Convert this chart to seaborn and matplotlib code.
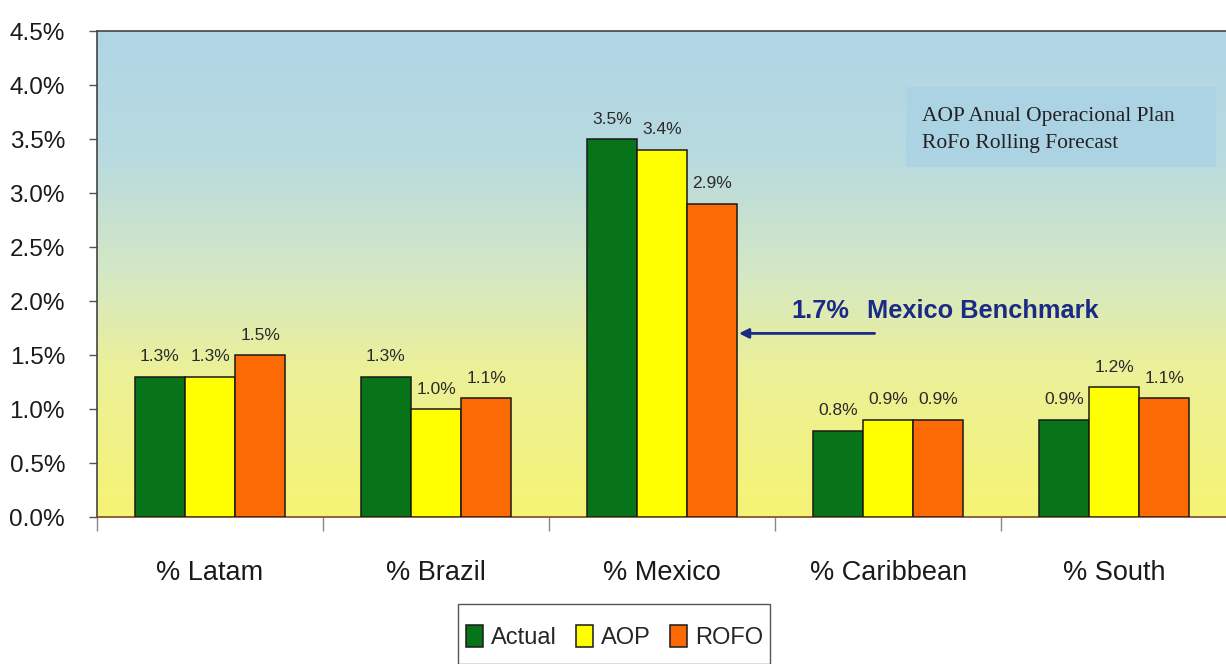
import numpy as np
import pandas as pd
import matplotlib
matplotlib.use("Agg")
import matplotlib.pyplot as plt
from matplotlib.colors import LinearSegmentedColormap
from matplotlib.patches import Rectangle
from matplotlib.ticker import FixedLocator, FuncFormatter
import seaborn as sns

# ---- data ----
regions = ["% Latam", "% Brazil", "% Mexico", "% Caribbean", "% South"]
series = ["Actual", "AOP", "ROFO"]
actual = [1.3, 1.3, 3.5, 0.8, 0.9]
aop = [1.3, 1.0, 3.4, 0.9, 1.2]
rofo = [1.5, 1.1, 2.9, 0.9, 1.1]
benchmark_value = 1.7
benchmark_label = "Mexico Benchmark"
note_lines = ["AOP Anual Operacional Plan", "RoFo Rolling Forecast"]
yticks = [0.0, 0.5, 1.0, 1.5, 2.0, 2.5, 3.0, 3.5, 4.0, 4.5]

df = pd.DataFrame({
    "region": regions * 3,
    "series": [s for s in series for _ in regions],
    "value": actual + aop + rofo,
})

palette = {"Actual": "#08741a", "AOP": "#ffff00", "ROFO": "#fb6a04"}

sns.set_theme(style="white")
plt.rcParams["font.family"] = ["Liberation Sans", "DejaVu Sans"]

W, H = 1226, 664
fig = plt.figure(figsize=(W / 100, H / 100), dpi=100)
ax = fig.add_axes([97 / W, (H - 517) / H, (W - 97) / W + 0.001, (517 - 31) / H])

# gradient backdrop: sky blue at the top fading into yellow at the bottom
bg = LinearSegmentedColormap.from_list(
    "bg",
    [(0.0, "#b0d6e6"), (0.25, "#b8dae0"), (0.5, "#d4e8c4"),
     (0.7, "#ecf098"), (1.0, "#f6f474")],
)
grad = np.linspace(0, 1, 256).reshape(-1, 1)
ax.imshow(grad, cmap=bg, aspect="auto", extent=[0, 1, 0, 1],
          transform=ax.transAxes, zorder=0)

sns.barplot(data=df, x="region", y="value", hue="series", palette=palette,
            width=0.665, edgecolor="#1a1a1a", linewidth=1.1, saturation=1,
            ax=ax, zorder=3, legend=True)

ax.set_xlim(-0.5, 4.5)
ax.set_ylim(0, 4.5)

# value labels on each bar
for cont in ax.containers:
    for rect in cont:
        h = rect.get_height()
        ax.annotate(f"{h:.1f}%", (rect.get_x() + rect.get_width() / 2, h),
                    xytext=(0, 9), textcoords="offset points",
                    ha="center", va="bottom", fontsize=12.5, color="#2a2a2a",
                    zorder=5)

# y axis
ax.yaxis.set_major_locator(FixedLocator(yticks))
ax.yaxis.set_major_formatter(FuncFormatter(lambda v, _: f"{v:.1f}%"))
ax.tick_params(axis="y", which="major", left=True, length=6, width=1,
               color="#555555", pad=17, labelsize=17.5, labelcolor="#1a1a1a")

# x axis: labels at group centres, ticks between groups
ax.set_xticks(range(len(regions)))
ax.set_xticklabels(regions)
ax.set_xticks(np.arange(-0.5, len(regions), 1.0), minor=True)
ax.tick_params(axis="x", which="major", bottom=False, length=0, pad=31,
               labelsize=19.5, labelcolor="#1a1a1a")
ax.tick_params(axis="x", which="minor", bottom=True, length=10, width=1,
               color="#888888")
ax.set_xlabel("")
ax.set_ylabel("")

for side in ["left", "top"]:
    ax.spines[side].set_color("#444444")
    ax.spines[side].set_linewidth(1.2)
ax.spines["bottom"].set_color("#7a4a22")
ax.spines["bottom"].set_linewidth(1.2)
ax.spines["right"].set_visible(False)

# abbreviation note
ax.add_patch(Rectangle((3.08, 3.24), 1.37, 0.74, facecolor="#a9d2e6",
                       edgecolor="none", alpha=0.75, zorder=1))
ax.text(3.15, 3.71, note_lines[0], family="Liberation Serif", fontsize=15.5,
        color="#222222", va="center", zorder=6)
ax.text(3.15, 3.46, note_lines[1], family="Liberation Serif", fontsize=15.5,
        color="#222222", va="center", zorder=6)

# benchmark call-out
navy = "#1b2a84"
ax.text(2.57, 1.905, f"{benchmark_value:.1f}%", fontsize=18.3, fontweight="bold",
        color=navy, va="center", zorder=6)
ax.text(2.905, 1.905, benchmark_label, fontsize=18.3, fontweight="bold",
        color=navy, va="center", zorder=6)
ax.annotate("", xy=(2.34, benchmark_value), xytext=(2.94, benchmark_value),
            arrowprops=dict(arrowstyle="-|>", color=navy, lw=2,
                            mutation_scale=14, shrinkA=0, shrinkB=0),
            zorder=6)

# legend below the chart, inside its own white box
fig.patches.append(Rectangle((458 / W, 0), (770 - 458) / W, (H - 604) / H,
                             transform=fig.transFigure, facecolor="white",
                             edgecolor="#555555", linewidth=1.0, zorder=1))
handles, labels = ax.get_legend_handles_labels()
ax.get_legend().remove()
leg = fig.legend(handles, labels, loc="center left",
                 bbox_to_anchor=(466 / W, 1 - 637 / H), ncol=3,
                 fontsize=17, frameon=False,
                 borderpad=0, handlelength=0.72, handleheight=1.05,
                 handletextpad=0.35, columnspacing=0.8, borderaxespad=0)
leg.set_zorder(2)

fig.savefig("out.png", dpi=100, facecolor="white")
